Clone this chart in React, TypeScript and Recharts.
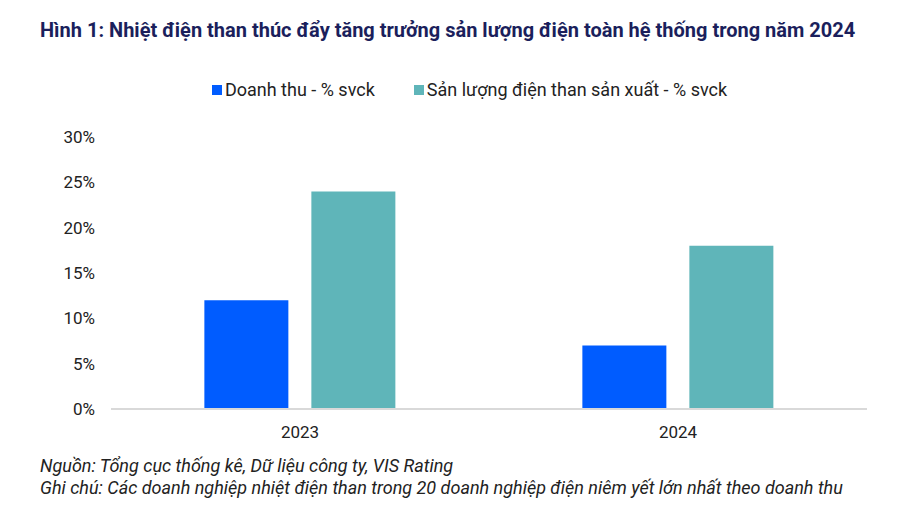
import React from 'react';
import { BarChart, Bar, XAxis, YAxis } from 'recharts';

const years = ['2023', '2024'];
const doanhThu = [12, 7];
const sanLuong = [24, 18];
const yTicks = [0, 5, 10, 15, 20, 25, 30];

const seriesNames = ['Doanh thu - % svck', 'Sản lượng điện than sản xuất - % svck'];
const seriesColors = ['#005CFF', '#5FB5B9'];

const data = years.map((year, i) => ({
  year,
  doanhThu: doanhThu[i],
  sanLuong: sanLuong[i],
}));

const font = 'Roboto, "Noto Sans", sans-serif';

export default function App() {
  return (
    <div
      style={{
        position: 'absolute',
        left: 0,
        top: 0,
        width: 900,
        height: 520,
        background: '#fff',
        fontFamily: font,
        overflow: 'hidden',
      }}
    >
      <div
        style={{
          position: 'absolute',
          left: 40,
          top: 18,
          fontSize: 20,
          fontWeight: 700,
          color: '#1B1F5C',
          whiteSpace: 'nowrap',
        }}
      >
        Hình 1: Nhiệt điện than thúc đẩy tăng trưởng sản lượng điện toàn hệ thống trong năm 2024
      </div>

      <div
        style={{
          position: 'absolute',
          left: 0,
          top: 79,
          width: 900,
          display: 'flex',
          justifyContent: 'center',
          gap: 39,
          fontSize: 18,
          color: '#222',
          paddingLeft: 39,
          boxSizing: 'border-box',
        }}
      >
        {seriesNames.map((name, i) => (
          <div key={name} style={{ display: 'flex', alignItems: 'center', gap: 3 }}>
            <span style={{ width: 10, height: 10, background: seriesColors[i], display: 'inline-block' }} />
            <span>{name}</span>
          </div>
        ))}
      </div>

      <div style={{ position: 'absolute', left: 0, top: 0 }}>
        <BarChart
          width={900}
          height={520}
          data={data}
          margin={{ top: 137, right: 33, left: 30, bottom: 81 }}
          barGap={23}
          barCategoryGap="24.7%"
        >
          <XAxis
            dataKey="year"
            tickLine={false}
            tickSize={0}
            tickMargin={17}
            axisLine={{ stroke: '#D9D9D9', strokeWidth: 2 }}
            tick={{ fill: '#222', fontSize: 17, fontFamily: font }}
            height={30}
          />
          <YAxis
            domain={[0, 30]}
            ticks={yTicks}
            tickFormatter={(v) => `${v}%`}
            axisLine={false}
            tickLine={false}
            tickSize={0}
            tickMargin={16}
            width={81}
            tick={{ fill: '#222', fontSize: 17, fontFamily: font }}
          />
          <Bar dataKey="doanhThu" name={seriesNames[0]} fill={seriesColors[0]} isAnimationActive={false} />
          <Bar dataKey="sanLuong" name={seriesNames[1]} fill={seriesColors[1]} isAnimationActive={false} />
        </BarChart>
      </div>

      <div
        style={{
          position: 'absolute',
          left: 40,
          top: 455,
          fontSize: 18,
          fontStyle: 'italic',
          color: '#222',
          lineHeight: '22px',
          whiteSpace: 'nowrap',
        }}
      >
        <div>Nguồn: Tổng cục thống kê, Dữ liệu công ty, VIS Rating</div>
        <div>Ghi chú: Các doanh nghiệp nhiệt điện than trong 20 doanh nghiệp điện niêm yết lớn nhất theo doanh thu</div>
      </div>
    </div>
  );
}
